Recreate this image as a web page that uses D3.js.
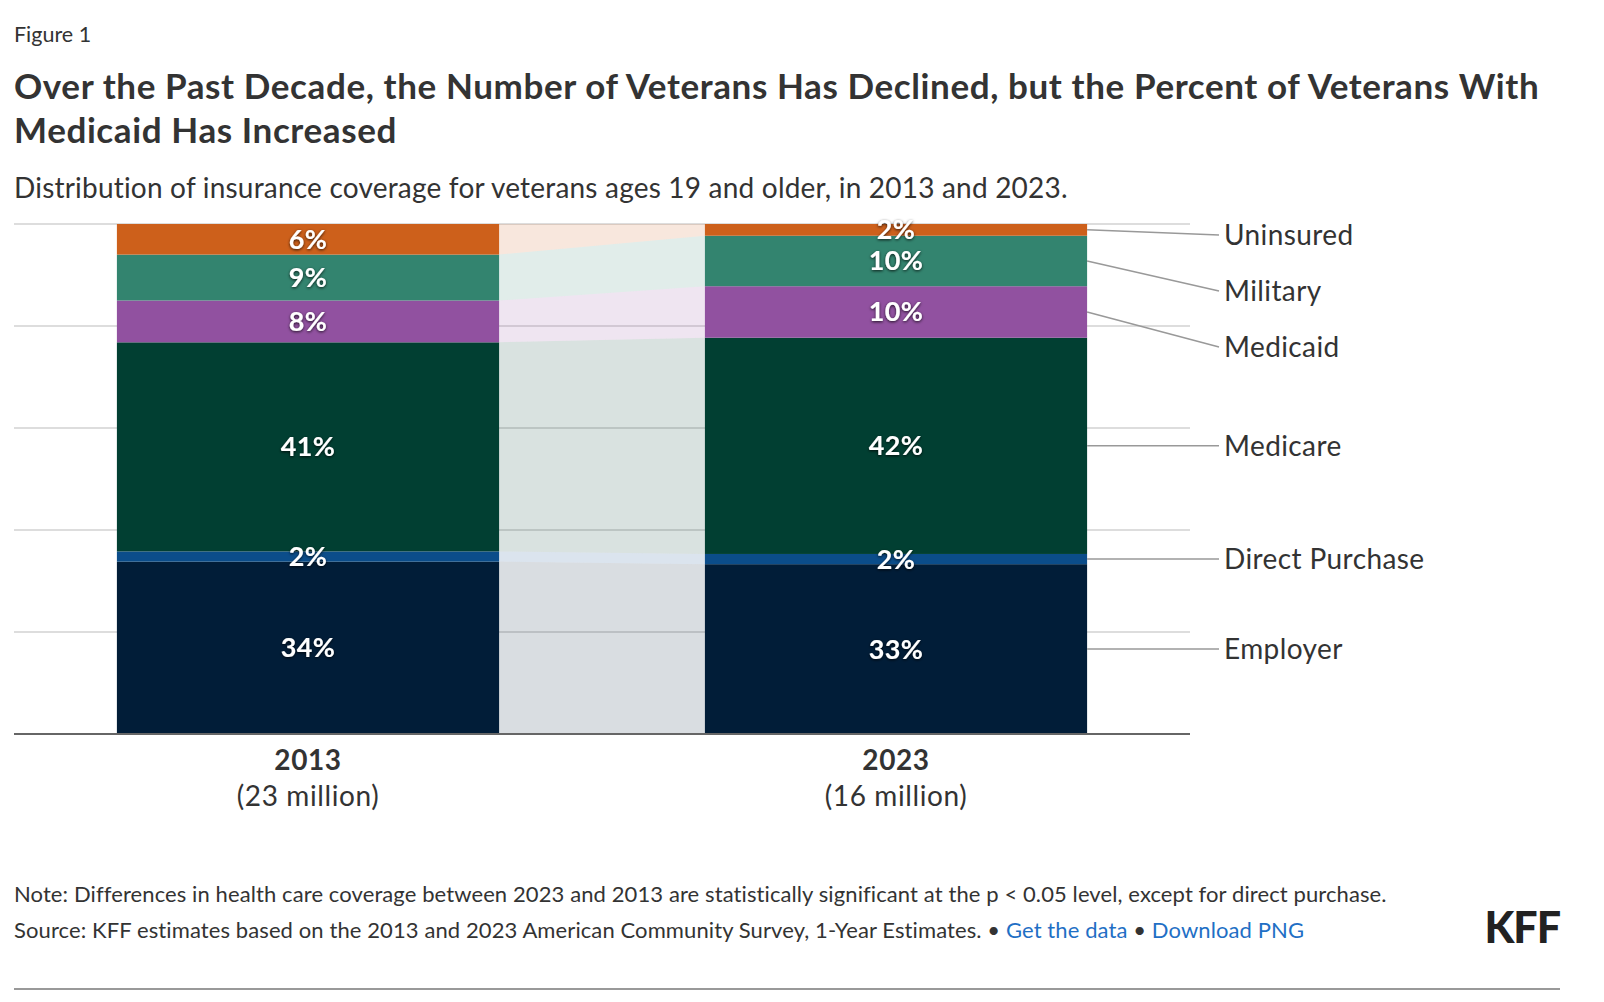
<!DOCTYPE html>
<html>
<head>
<meta charset="utf-8">
<script src="https://cdn.jsdelivr.net/npm/d3@7"></script>
<style>
  body { margin: 0; background: #fff; }
  svg text { font-family: Lato, "Noto Sans", sans-serif; }
</style>
</head>
<body>
<svg id="chart" width="1604" height="1002"></svg>
<script>
// years and veteran population under each bar
var categories = ['2013', '2023'];
var populations = ['(23 million)', '(16 million)'];

// coverage shares in percent, bottom to top
var seriesNames = ['Employer', 'Direct Purchase', 'Medicare', 'Medicaid', 'Military', 'Uninsured'];
var employer = [33.8, 33.3];
var directPurchase = [2.0, 2.0];
var medicare = [41.0, 42.4];
var medicaid = [8.2, 10.1];
var military = [9.0, 9.9];
var uninsured = [6.0, 2.3];
var seriesColors = ['#011d38', '#0b4d8a', '#013f32', '#9151a0', '#33846f', '#cd601b'];
var gridTicks = [0, 20, 40, 60, 80, 100];

var values = [employer, directPurchase, medicare, medicaid, military, uninsured];
var rows = categories.map(function(c, i) {
  var row = { year: c };
  seriesNames.forEach(function(s, j) { row[s] = values[j][i]; });
  return row;
});

var svg = d3.select('#chart');
var textColor = '#333';

var x = d3.scaleBand().domain(categories).range([14, 1190]).paddingInner(0.35).paddingOuter(0.175);
var y = d3.scaleLinear().domain([0, 100]).range([734, 224]);
var color = d3.scaleOrdinal().domain(seriesNames).range(seriesColors);

var stacked = d3.stack().keys(seriesNames)(rows);

// header
svg.append('text').attr('x', 14).attr('y', 42).attr('font-size', 21.5).attr('fill', textColor).text('Figure 1');
var title = svg.append('text').attr('font-size', 35).attr('font-weight', 700).attr('letter-spacing', 0.6).attr('fill', '#333');
title.append('tspan').attr('x', 14).attr('y', 99).text('Over the Past Decade, the Number of Veterans Has Declined, but the Percent of Veterans With');
title.append('tspan').attr('x', 14).attr('y', 143).text('Medicaid Has Increased');
svg.append('text').attr('x', 14).attr('y', 198).attr('font-size', 28).attr('letter-spacing', 0.2).attr('fill', textColor)
  .text('Distribution of insurance coverage for veterans ages 19 and older, in 2013 and 2023.');

// gridlines
svg.append('g').selectAll('line').data(gridTicks.filter(function(d) { return d > 0; })).join('line')
  .attr('x1', 14).attr('x2', 1190)
  .attr('y1', function(d) { return y(d); }).attr('y2', function(d) { return y(d); })
  .attr('stroke', '#d2d2d2').attr('stroke-width', 1.5);

// connectors between the two bars
var x0 = x(categories[0]) + x.bandwidth();
var x1 = x(categories[1]);
svg.append('g').selectAll('path').data(stacked).join('path')
  .attr('d', function(s) {
    var a = s[0], b = s[1];
    return 'M' + x0 + ',' + y(a[0]) + 'L' + x0 + ',' + y(a[1]) + 'L' + x1 + ',' + y(b[1]) + 'L' + x1 + ',' + y(b[0]) + 'Z';
  })
  .attr('fill', function(s) { return color(s.key); })
  .attr('fill-opacity', 0.15);

// bars
var layer = svg.append('g').selectAll('g').data(stacked).join('g')
  .attr('fill', function(s) { return color(s.key); });
layer.selectAll('rect').data(function(s) { return s; }).join('rect')
  .attr('x', function(d) { return x(d.data.year); })
  .attr('width', x.bandwidth())
  .attr('y', function(d) { return y(d[1]); })
  .attr('height', function(d) { return y(d[0]) - y(d[1]); });

// value labels
var defs = svg.append('defs');
defs.append('filter').attr('id', 'shadow').attr('x', '-20%').attr('y', '-30%').attr('width', '140%').attr('height', '160%')
  .append('feDropShadow').attr('dx', 0).attr('dy', 1).attr('stdDeviation', 1.5)
  .attr('flood-color', '#000').attr('flood-opacity', 0.8);

var fmt = d3.format('.0f');
var labelData = [];
stacked.forEach(function(s) {
  s.forEach(function(d) { labelData.push(d); });
});
svg.append('g').selectAll('text').data(labelData).join('text')
  .attr('x', function(d) { return x(d.data.year) + x.bandwidth() / 2; })
  .attr('y', function(d) { return (y(d[0]) + y(d[1])) / 2; })
  .attr('dy', '0.35em')
  .attr('text-anchor', 'middle')
  .attr('font-size', 27).attr('font-weight', 700).attr('letter-spacing', 0.4).attr('fill', '#fff')
  .attr('filter', 'url(#shadow)')
  .text(function(d) { return fmt(d[1] - d[0]) + '%'; });

// baseline
svg.append('line').attr('x1', 14).attr('x2', 1190).attr('y1', y(0)).attr('y2', y(0))
  .attr('stroke', '#666').attr('stroke-width', 2);

// category labels
var cat = svg.append('g').selectAll('g').data(categories).join('g')
  .attr('transform', function(d) { return 'translate(' + (x(d) + x.bandwidth() / 2) + ',0)'; });
cat.append('text').attr('y', 770).attr('text-anchor', 'middle').attr('font-size', 28).attr('font-weight', 700)
  .attr('letter-spacing', 0.6).attr('fill', textColor).text(function(d) { return d; });
cat.append('text').attr('y', 806).attr('text-anchor', 'middle').attr('font-size', 28)
  .attr('letter-spacing', 0.6).attr('fill', textColor).text(function(d, i) { return populations[i]; });

// series labels on the right, nudged apart where segments are thin
var last = stacked.map(function(s) {
  var d = s[s.length - 1];
  return { key: s.key, mid: (y(d[0]) + y(d[1])) / 2 };
}).reverse();
var gap = 56;
last.forEach(function(l, i) {
  var minY = i === 0 ? y(100) + 11 : last[i - 1].ly + gap;
  l.ly = Math.max(l.mid, minY);
});
var barEnd = x(categories[1]) + x.bandwidth();
svg.append('g').selectAll('path').data(last).join('path')
  .attr('d', function(l) { return 'M' + barEnd + ',' + l.mid + 'L1219,' + l.ly; })
  .attr('fill', 'none').attr('stroke', '#999').attr('stroke-width', 1.5);
svg.append('g').selectAll('text').data(last).join('text')
  .attr('x', 1224).attr('y', function(l) { return l.ly; }).attr('dy', '0.35em')
  .attr('font-size', 28).attr('letter-spacing', 0.4).attr('fill', textColor)
  .text(function(l) { return l.key; });

// footer
svg.append('text').attr('x', 14).attr('y', 902).attr('font-size', 22).attr('letter-spacing', 0.1).attr('fill', textColor)
  .text('Note: Differences in health care coverage between 2023 and 2013 are statistically significant at the p < 0.05 level, except for direct purchase.');
var src = svg.append('text').attr('x', 14).attr('y', 938).attr('font-size', 22).attr('letter-spacing', 0.1).attr('fill', textColor);
src.append('tspan').text('Source: KFF estimates based on the 2013 and 2023 American Community Survey, 1-Year Estimates.  \u2022 ');
src.append('tspan').attr('fill', '#1f6fc5').text('Get the data');
src.append('tspan').text(' \u2022 ');
src.append('tspan').attr('fill', '#1f6fc5').text('Download PNG');
svg.append('text').attr('x', 1560).attr('y', 943).attr('text-anchor', 'end').attr('font-size', 43)
  .attr('font-weight', 900).attr('letter-spacing', -1).attr('fill', '#222').text('KFF');
svg.append('line').attr('x1', 14).attr('x2', 1560).attr('y1', 989).attr('y2', 989)
  .attr('stroke', '#999').attr('stroke-width', 2);
</script>
</body>
</html>
